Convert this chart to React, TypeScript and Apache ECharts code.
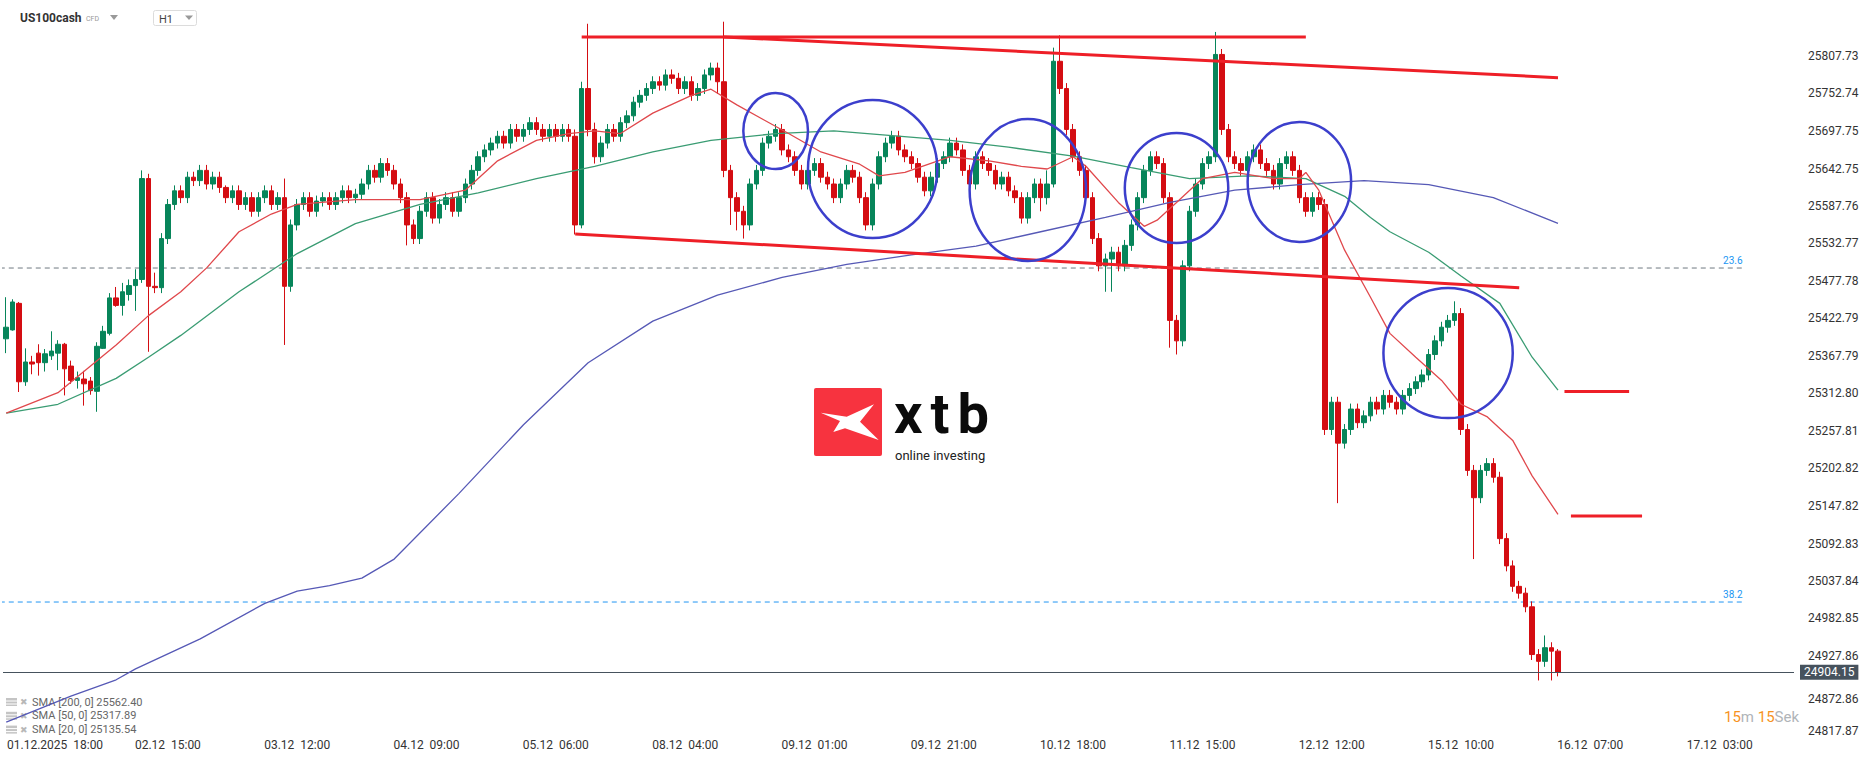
import React, { useEffect, useRef } from "react";
import * as echarts from "echarts";

// ---- candle data per trading day: [open, high, low, close] ----
const d0112 = [
  [25393, 25454, 25372, 25410], [25406, 25451, 25405, 25447], [25445, 25447, 25315, 25330], [25330, 25379, 25324, 25359],
  [25359, 25368, 25341, 25356], [25372, 25385, 25339, 25358], [25358, 25378, 25345, 25371], [25368, 25404, 25362, 25375],
  [25372, 25391, 25347, 25385], [25385, 25387, 25310, 25349],
];
const d0212 = [
  [25353, 25361, 25327, 25332], [25332, 25345, 25320, 25336], [25334, 25346, 25295, 25327], [25331, 25337, 25311, 25317],
  [25316, 25388, 25286, 25382], [25379, 25412, 25378, 25404], [25401, 25460, 25398, 25453], [25453, 25469, 25440, 25442],
  [25442, 25475, 25427, 25462], [25458, 25480, 25449, 25471], [25471, 25495, 25434, 25480], [25480, 25640, 25475, 25628],
  [25628, 25635, 25374, 25470], [25470, 25490, 25460, 25468], [25468, 25548, 25460, 25540], [25540, 25598, 25532, 25590],
  [25590, 25618, 25582, 25610], [25610, 25618, 25592, 25600], [25600, 25638, 25592, 25630], [25630, 25638, 25617, 25625],
  [25625, 25648, 25617, 25640], [25640, 25648, 25612, 25620], [25620, 25638, 25612, 25630],
];
const d0312 = [
  [25630, 25638, 25607, 25615], [25615, 25618, 25592, 25600], [25600, 25618, 25592, 25610], [25610, 25618, 25582, 25590],
  [25590, 25608, 25582, 25600], [25600, 25608, 25572, 25580], [25580, 25608, 25572, 25600], [25600, 25618, 25592, 25610],
  [25610, 25618, 25582, 25590], [25590, 25608, 25582, 25600], [25600, 25628, 25384, 25470], [25470, 25568, 25462, 25560],
  [25560, 25598, 25552, 25590], [25590, 25608, 25582, 25600], [25600, 25608, 25572, 25580], [25580, 25603, 25572, 25595],
  [25595, 25608, 25587, 25600], [25600, 25608, 25582, 25590], [25590, 25608, 25582, 25600], [25600, 25618, 25592, 25610],
  [25610, 25618, 25592, 25600], [25600, 25613, 25592, 25605], [25605, 25628, 25597, 25620],
];
const d0412 = [
  [25620, 25648, 25612, 25640], [25640, 25648, 25622, 25630], [25630, 25658, 25622, 25650], [25650, 25658, 25632, 25640],
  [25640, 25648, 25612, 25620], [25620, 25628, 25592, 25600], [25600, 25608, 25530, 25560], [25560, 25568, 25532, 25540],
  [25540, 25588, 25532, 25580], [25580, 25608, 25572, 25600], [25600, 25608, 25562, 25570], [25570, 25598, 25562, 25590],
  [25590, 25608, 25582, 25600], [25600, 25608, 25572, 25580], [25580, 25608, 25572, 25600], [25600, 25628, 25592, 25620],
  [25620, 25648, 25612, 25640], [25640, 25668, 25632, 25660], [25660, 25678, 25652, 25670], [25670, 25688, 25662, 25680],
  [25680, 25698, 25672, 25690], [25690, 25698, 25672, 25680], [25680, 25708, 25672, 25700],
];
const d0512 = [
  [25700, 25708, 25682, 25690], [25690, 25708, 25682, 25700], [25700, 25718, 25692, 25710], [25710, 25718, 25692, 25700],
  [25700, 25708, 25682, 25690], [25690, 25708, 25682, 25700], [25700, 25708, 25682, 25690], [25690, 25708, 25682, 25700],
  [25700, 25708, 25682, 25690], [25690, 25700, 25546, 25560], [25560, 25770, 25555, 25760], [25760, 25855, 25690, 25700],
  [25700, 25710, 25650, 25660], [25660, 25690, 25652, 25680], [25680, 25708, 25672, 25700], [25700, 25708, 25682, 25690],
  [25690, 25718, 25682, 25710], [25710, 25728, 25702, 25720], [25720, 25748, 25712, 25740], [25740, 25758, 25732, 25750],
  [25750, 25768, 25742, 25760], [25760, 25778, 25752, 25770], [25770, 25778, 25757, 25765],
];
const d0812 = [
  [25765, 25788, 25757, 25780], [25780, 25788, 25767, 25775], [25775, 25783, 25752, 25760], [25760, 25778, 25752, 25770],
  [25770, 25778, 25742, 25750], [25750, 25768, 25742, 25760], [25760, 25788, 25752, 25780], [25780, 25798, 25772, 25790],
  [25790, 25798, 25752, 25770], [25770, 25858, 25630, 25640], [25640, 25648, 25560, 25600], [25600, 25608, 25552, 25580],
  [25580, 25588, 25540, 25560], [25560, 25628, 25552, 25620], [25620, 25648, 25612, 25640], [25640, 25688, 25632, 25680],
  [25680, 25698, 25672, 25690], [25690, 25708, 25682, 25700], [25700, 25708, 25662, 25670], [25670, 25678, 25652, 25660],
  [25660, 25668, 25632, 25640], [25640, 25648, 25612, 25620],
];
const d0912 = [
  [25620, 25648, 25612, 25640], [25640, 25658, 25632, 25650], [25650, 25658, 25622, 25630], [25630, 25638, 25612, 25620],
  [25620, 25628, 25592, 25600], [25600, 25628, 25592, 25620], [25620, 25648, 25612, 25640], [25640, 25648, 25622, 25630],
  [25630, 25638, 25592, 25600], [25600, 25608, 25552, 25560], [25560, 25628, 25552, 25620], [25620, 25668, 25612, 25660],
  [25660, 25688, 25652, 25680], [25680, 25698, 25672, 25690], [25690, 25698, 25662, 25670], [25670, 25678, 25652, 25660],
  [25660, 25668, 25642, 25650], [25650, 25658, 25622, 25630], [25630, 25638, 25602, 25610], [25610, 25638, 25602, 25630],
  [25630, 25658, 25622, 25650], [25650, 25668, 25642, 25660], [25660, 25688, 25652, 25680],
];
const d1012 = [
  [25680, 25688, 25662, 25670], [25670, 25678, 25632, 25640], [25640, 25648, 25612, 25620], [25620, 25668, 25612, 25660],
  [25660, 25668, 25642, 25650], [25650, 25658, 25632, 25640], [25640, 25648, 25612, 25620], [25620, 25638, 25612, 25630],
  [25630, 25638, 25602, 25610], [25610, 25618, 25592, 25600], [25600, 25608, 25562, 25570], [25570, 25608, 25562, 25600],
  [25600, 25628, 25592, 25620], [25620, 25628, 25580, 25600], [25600, 25640, 25590, 25620], [25620, 25820, 25615, 25800],
  [25800, 25838, 25752, 25760], [25760, 25768, 25692, 25700], [25700, 25708, 25652, 25660], [25660, 25668, 25632, 25640],
  [25640, 25648, 25592, 25600], [25600, 25608, 25532, 25540], [25540, 25548, 25492, 25500],
];
const d1112 = [
  [25500, 25518, 25462, 25510], [25510, 25528, 25462, 25520], [25520, 25528, 25492, 25500], [25500, 25538, 25492, 25530],
  [25530, 25568, 25522, 25560], [25560, 25608, 25552, 25600], [25600, 25648, 25592, 25640], [25640, 25668, 25632, 25660],
  [25660, 25668, 25642, 25650], [25650, 25658, 25592, 25600], [25600, 25608, 25380, 25420], [25420, 25428, 25370, 25390],
  [25390, 25508, 25382, 25500], [25500, 25588, 25492, 25580], [25580, 25628, 25572, 25620], [25620, 25658, 25612, 25650],
  [25650, 25668, 25642, 25660], [25660, 25843, 25652, 25810], [25810, 25818, 25692, 25700], [25700, 25708, 25652, 25660],
  [25660, 25668, 25642, 25650], [25650, 25658, 25632, 25640], [25640, 25668, 25632, 25660],
];
const d1212 = [
  [25660, 25678, 25652, 25670], [25670, 25678, 25642, 25650], [25650, 25658, 25632, 25640], [25640, 25648, 25612, 25620],
  [25620, 25658, 25612, 25650], [25650, 25668, 25642, 25660], [25660, 25668, 25632, 25640], [25640, 25648, 25592, 25600],
  [25600, 25608, 25572, 25580], [25580, 25608, 25572, 25600], [25600, 25608, 25582, 25590], [25590, 25598, 25252, 25260],
  [25260, 25308, 25252, 25300], [25300, 25308, 25152, 25240], [25240, 25268, 25232, 25260], [25260, 25298, 25252, 25290],
  [25290, 25298, 25262, 25270], [25270, 25288, 25262, 25280], [25280, 25308, 25272, 25300], [25300, 25308, 25282, 25290],
  [25290, 25318, 25282, 25310], [25310, 25318, 25292, 25300], [25300, 25308, 25282, 25290],
];
const d1512 = [
  [25290, 25318, 25282, 25310], [25310, 25328, 25302, 25320], [25320, 25338, 25312, 25330], [25330, 25348, 25322, 25340],
  [25340, 25378, 25332, 25370], [25370, 25398, 25362, 25390], [25390, 25418, 25382, 25410], [25410, 25428, 25402, 25420],
  [25420, 25448, 25412, 25430], [25430, 25438, 25252, 25260], [25260, 25268, 25192, 25200], [25200, 25208, 25070, 25160],
  [25160, 25208, 25152, 25200], [25200, 25218, 25192, 25210], [25210, 25218, 25182, 25190], [25190, 25198, 25092, 25100],
  [25100, 25108, 25052, 25060], [25060, 25068, 25022, 25030], [25030, 25038, 25012, 25020], [25020, 25028, 24992, 25000],
  [25000, 25008, 24922, 24930], [24930, 24938, 24892, 24920],
];
const d1612 = [
  [24920, 24958, 24912, 24940], [24940, 24948, 24892, 24935], [24935, 24938, 24898, 24904.15],
];

const tradingDays = [
  { day: "01.12", firstHour: 13, rows: d0112 }, { day: "02.12", firstHour: 0, rows: d0212 },
  { day: "03.12", firstHour: 0, rows: d0312 }, { day: "04.12", firstHour: 0, rows: d0412 },
  { day: "05.12", firstHour: 0, rows: d0512 }, { day: "08.12", firstHour: 1, rows: d0812 },
  { day: "09.12", firstHour: 0, rows: d0912 }, { day: "10.12", firstHour: 0, rows: d1012 },
  { day: "11.12", firstHour: 0, rows: d1112 }, { day: "12.12", firstHour: 0, rows: d1212 },
  { day: "15.12", firstHour: 1, rows: d1512 }, { day: "16.12", firstHour: 0, rows: d1612 },
];

// ---- indicator lines: [bar index, value] ----
const sma20 = [
  [0, 25284], [8, 25314], [17, 25384], [22, 25427], [27, 25462], [31, 25497], [36, 25550], [41, 25576], [45, 25590],
  [54, 25597], [64, 25597], [71, 25611], [76, 25654], [82, 25684], [87, 25694], [91, 25698], [95, 25694], [100, 25724],
  [106, 25750], [109, 25759], [113, 25736], [117, 25715], [121, 25694], [126, 25667], [132, 25649], [135, 25632],
  [139, 25637], [146, 25660], [152, 25654], [157, 25646], [161, 25642], [165, 25660], [167, 25646], [172, 25593],
  [176, 25558], [178, 25567], [181, 25593], [185, 25628], [190, 25637], [196, 25628], [200, 25628], [201, 25637],
  [203, 25611], [207, 25523], [211, 25454], [214, 25401], [218, 25366], [222, 25332], [225, 25297], [229, 25279],
  [233, 25244], [236, 25192], [240, 25135.54],
];
const sma50 = [
  [0, 25284], [8, 25297], [17, 25335], [22, 25366], [27, 25398], [36, 25462], [45, 25518], [54, 25562], [64, 25590],
  [73, 25607], [82, 25628], [91, 25646], [100, 25667], [109, 25684], [119, 25694], [128, 25698], [137, 25691],
  [146, 25684], [155, 25674], [165, 25661], [174, 25644], [183, 25628], [192, 25632], [201, 25628], [207, 25602],
  [211, 25571], [214, 25550], [220, 25520], [225, 25485], [231, 25445], [236, 25366], [240, 25317.89],
];
const sma200 = [
  [0, 24831], [10, 24869], [17, 24893], [20, 24909], [30, 24953], [40, 25005], [45, 25023], [50, 25031], [55, 25042],
  [60, 25070], [70, 25166], [80, 25267], [90, 25358], [100, 25419], [110, 25457], [120, 25483], [130, 25502],
  [140, 25516], [150, 25529], [160, 25550], [170, 25571], [180, 25593], [190, 25611], [200, 25619], [210, 25625],
  [220, 25619], [230, 25600], [240, 25562.4],
];
const legendRows = [
  { name: "SMA [200, 0]", value: "25562.40" },
  { name: "SMA [50, 0]", value: "25317.89" },
  { name: "SMA [20, 0]", value: "25135.54" },
];

// ---- drawings (bar index, price) ----
const topLevel = [[89.4, 25835.6], [200.7, 25835.6]];
const upperChannel = [[110.7, 25835.6], [239.9, 25776]];
const lowerChannel = [[87.8, 25546.7], [234.2, 25468]];
const target1 = [[240.6, 25315.7], [250.9, 25315.7]];
const target2 = [[242, 25133.2], [253, 25133.2]];
const fib236 = { level: "23.6", price: 25496.8 };
const fib382 = { level: "38.2", price: 25007 };
const fibSpan = [-0.96, 268.7];
// circles: [center bar, center price, radius in bars, radius in price]
const circles = [
  [118.7, 25697.7, 5.1, 55.7], [133.9, 25642.0, 9.75, 101.2], [157.7, 25611.2, 9.6, 104.1],
  [180.6, 25614.1, 8.0, 80.7], [199.7, 25623.0, 8.35, 88], [223.3, 25372.1, 9.6, 95.3],
];

const lastPrice = 24904.15;
const xTickLabels = [
  "01.12.2025  18:00", "02.12  15:00", "03.12  12:00", "04.12  09:00", "05.12  06:00", "08.12  04:00", "09.12  01:00",
  "09.12  21:00", "10.12  18:00", "11.12  15:00", "12.12  12:00", "15.12  10:00", "16.12  07:00", "17.12  03:00",
];
const firstTickBar = 5;
const barsPerTick = 20;
const slotCount = 277;
const yTicks = [
  24817.87, 24872.86, 24927.86, 24982.85, 25037.84, 25092.83, 25147.82, 25202.82, 25257.81, 25312.8, 25367.79,
  25422.79, 25477.78, 25532.77, 25587.76, 25642.75, 25697.75, 25752.74, 25807.73,
];
const yMin = 24817.87;
const yMax = 25860.52;

const FONT = "Roboto, 'Noto Sans', sans-serif";

export default function App() {
  const ref = useRef<HTMLDivElement>(null);
  useEffect(() => {
    if (!ref.current) return;
    const chart = echarts.init(ref.current, undefined, { renderer: "svg" });

    const categories: string[] = [];
    const candles: number[][] = [];
    tradingDays.forEach((d) => {
      d.rows.forEach((r, k) => {
        const h = d.firstHour + k;
        categories.push(`${d.day} ${String(h).padStart(2, "0")}:00`);
        candles.push([r[0], r[3], r[2], r[1]]);
      });
    });
    while (categories.length < slotCount) categories.push(`+${categories.length}`);

    const redLine = (data: number[][], w = 3) => ({
      type: "line", data, symbol: "none", silent: true, z: 10,
      lineStyle: { color: "#ee1f27", width: w },
    });
    const fibLine = (f: { price: number }, color: string) => ({
      type: "line", symbol: "none", silent: true, z: 3,
      lineStyle: { color, width: 1, type: [5, 4] },
      data: [[fibSpan[0], f.price], [fibSpan[1], f.price]],
    });

    chart.setOption({
      animation: false,
      backgroundColor: "#ffffff",
      grid: { left: 3, right: 72, top: 20, bottom: 30, containLabel: false },
      xAxis: {
        type: "category",
        data: categories,
        boundaryGap: true,
        axisLine: { show: false },
        axisTick: { show: false },
        splitLine: { show: false },
        axisLabel: {
          color: "#333",
          fontSize: 12,
          fontFamily: FONT,
          margin: 8,
          interval: (i: number) => i >= firstTickBar && (i - firstTickBar) % barsPerTick === 0,
          formatter: (_v: string, i: number) => {
            const k = (i - firstTickBar) / barsPerTick;
            const t = xTickLabels[k] ?? "";
            return k === 0 ? `{first|${t}}` : t;
          },
          rich: { first: { padding: [0, 0, 0, 33], fontSize: 12, color: "#333", fontFamily: FONT } },
        },
      },
      yAxis: {
        type: "value",
        position: "right",
        min: yMin,
        max: yMax,
        axisLine: { show: false },
        axisTick: { show: false },
        splitLine: { show: false },
        axisLabel: {
          customValues: yTicks,
          formatter: (v: number) => {
            const t = v.toFixed(2);
            // the label next to the price tag is pushed down a little, as in the source chart
            return Math.abs(v - lastPrice) < 40 && v < lastPrice ? `{low|${t}}` : t;
          },
          rich: { low: { padding: [11, 0, 0, 0], fontSize: 12, color: "#333", fontFamily: FONT } },
          color: "#333",
          fontSize: 12,
          fontFamily: FONT,
          margin: 14,
        },
      },
      series: [
        fibLine(fib236, "#6f7880"),
        fibLine(fib382, "#2196f3"),
        {
          type: "candlestick",
          data: candles,
          barWidth: 5,
          z: 4,
          itemStyle: { color: "#07855a", color0: "#d40d12", borderColor: "#07855a", borderColor0: "#d40d12", borderWidth: 1 },
          markLine: {
            symbol: "none",
            silent: true,
            data: [{ yAxis: lastPrice }],
            lineStyle: { color: "#46525d", width: 1, type: "solid" },
            label: {
              show: true, position: "end", formatter: lastPrice.toFixed(2), color: "#fff", fontSize: 12, fontFamily: FONT,
              backgroundColor: "#46525d", padding: [2, 4, 1, 4], distance: 6,
            },
          },
        },
        { type: "line", data: sma200, symbol: "none", silent: true, z: 5, lineStyle: { color: "#5659b6", width: 1.3 } },
        { type: "line", data: sma50, symbol: "none", silent: true, z: 5, lineStyle: { color: "#3a9c73", width: 1.3 } },
        { type: "line", data: sma20, symbol: "none", silent: true, z: 5, lineStyle: { color: "#e0484c", width: 1.3 } },
        redLine(topLevel),
        redLine(upperChannel),
        redLine(lowerChannel),
        redLine(target1),
        redLine(target2),
      ],
    });

    const toPx = (i: number, p: number) => chart.convertToPixel({ xAxisIndex: 0, yAxisIndex: 0 }, [i, p]) as number[];
    const circleEls = circles.map(([ci, cp, rb, rp]) => {
      const c = toPx(ci, cp);
      const e = toPx(ci + rb, cp + rp);
      return {
        type: "ellipse", z: 100, silent: true,
        shape: { cx: c[0], cy: c[1], rx: Math.abs(e[0] - c[0]), ry: Math.abs(e[1] - c[1]) },
        style: { fill: "none", stroke: "#3c3fcc", lineWidth: 2.5 },
      };
    });
    const fibLabels = [fib236, fib382].map((f) => {
      const e = toPx(fibSpan[1], f.price);
      return {
        type: "text", z: 100, silent: true, x: e[0] - 3, y: e[1] - 8,
        style: { text: f.level, fill: "#2196f3", font: `10px ${FONT}`, align: "right", verticalAlign: "middle" },
      };
    });

    const legendEls: any[] = [];
    legendRows.forEach((r, k) => {
      const y = 702 + k * 13.8;
      legendEls.push(
        { type: "rect", shape: { x: 6, y: y - 4, width: 11, height: 8 }, style: { fill: "#c4c4c4" } },
        { type: "line", shape: { x1: 6, y1: y - 1, x2: 17, y2: y - 1 }, style: { stroke: "#fff", lineWidth: 1 } },
        { type: "line", shape: { x1: 6, y1: y + 2, x2: 17, y2: y + 2 }, style: { stroke: "#fff", lineWidth: 1 } },
        { type: "text", x: 20, y, style: { text: "✖", fill: "#b8b8b8", font: `9px ${FONT}`, verticalAlign: "middle" } },
        { type: "text", x: 32, y, style: { text: `${r.name} ${r.value}`, fill: "#666", font: `11px ${FONT}`, verticalAlign: "middle" } },
      );
    });

    const logoFont = `bold 56px ${FONT}`;
    chart.setOption({
      graphic: [
        // header
        { type: "text", x: 20, y: 18, style: { text: "US100cash", fill: "#333", font: `bold 12px ${FONT}`, verticalAlign: "middle" } },
        { type: "text", x: 86, y: 19, style: { text: "CFD", fill: "#999", font: `7px ${FONT}`, verticalAlign: "middle" } },
        { type: "polygon", shape: { points: [[110, 15], [118, 15], [114, 20]] }, style: { fill: "#999" } },
        { type: "rect", shape: { x: 153.5, y: 10.5, width: 43, height: 15, r: 2 }, style: { fill: "#fff", stroke: "#dcdcdc", lineWidth: 1 } },
        { type: "text", x: 159, y: 19, style: { text: "H1", fill: "#444", font: `11px ${FONT}`, verticalAlign: "middle" } },
        { type: "polygon", shape: { points: [[185, 15.5], [193, 15.5], [189, 20]] }, style: { fill: "#999" } },
        // logo
        { type: "rect", shape: { x: 814, y: 388, width: 68, height: 68, r: 2 }, style: { fill: "#f7333f" } },
        {
          type: "polygon",
          shape: { points: [[820.7, 412.7], [846.7, 416.7], [874, 404.3], [860, 421.7], [878.7, 440], [845, 428.3], [833.3, 432], [840, 421]] },
          style: { fill: "#fff" },
        },
        {
          type: "text", x: 894, y: 389,
          style: {
            text: "{x|x}{t|t}{b|b}\n{s|online investing}",
            verticalAlign: "top",
            rich: {
              x: { font: logoFont, fill: "#0b0b0b", lineHeight: 50 },
              t: { font: logoFont, fill: "#0b0b0b", lineHeight: 50, padding: [0, 0, 0, 8] },
              b: { font: logoFont, fill: "#0b0b0b", lineHeight: 50, padding: [0, 0, 0, 8] },
              s: { font: `13px ${FONT}`, fill: "#222", lineHeight: 32, padding: [0, 0, 0, 1] },
            },
          },
        },
        // countdown
        {
          type: "text", x: 1724, y: 717,
          style: {
            text: "{o|15}{g|m }{o|15}{g|Sek}", verticalAlign: "middle",
            rich: { o: { fill: "#f7931e", font: `15px ${FONT}` }, g: { fill: "#b0b4b8", font: `15px ${FONT}` } },
          },
        },
        ...legendEls,
        ...fibLabels,
        ...circleEls,
      ],
    });

    return () => chart.dispose();
  }, []);
  return <div ref={ref} style={{ position: "fixed", left: 0, top: 0, width: 1866, height: 761 }} />;
}
